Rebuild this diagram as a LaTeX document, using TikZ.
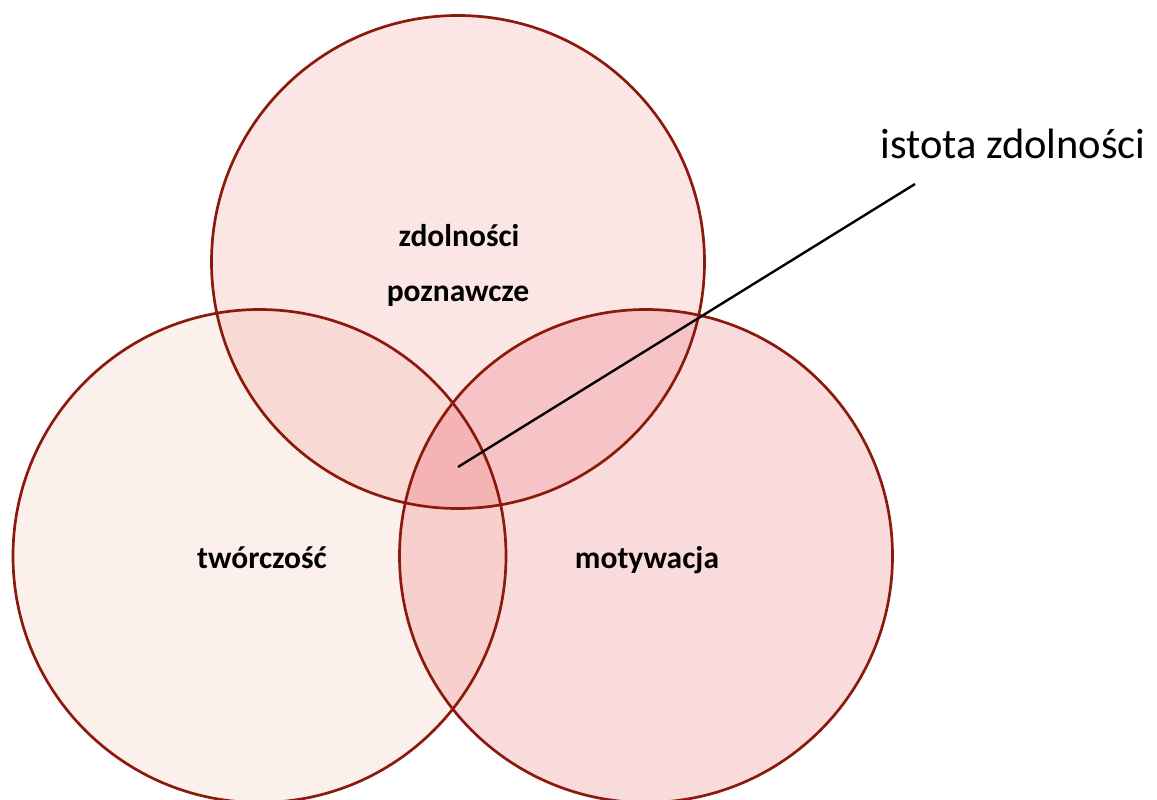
\documentclass[tikz,border=0pt]{standalone}
\usepackage{fontspec}
\setmainfont{Carlito}
\definecolor{fillTop}{HTML}{FBE5E5}
\definecolor{fillLeft}{HTML}{FCF0EC}
\definecolor{fillRight}{HTML}{FADBDC}
\definecolor{fillTL}{HTML}{F9D9D3}
\definecolor{fillTR}{HTML}{F6C4C6}
\definecolor{fillLR}{HTML}{F7CFCD}
\definecolor{fillAll}{HTML}{F4B4B3}
\definecolor{ringRed}{HTML}{8C1A0C}
\begin{document}
\begin{tikzpicture}[x=1pt,y=-1pt,
  ring/.style={draw=ringRed,line width=2.7pt},
  setlabel/.style={font=\fontsize{31.5}{36}\selectfont\bfseries,anchor=base,inner sep=0pt},
  calloutlabel/.style={font=\fontsize{42.5}{50}\selectfont,anchor=base,inner sep=0pt}]
\useasboundingbox (0,0) rectangle (1157,800);
\def\rr{246.5}
\coordinate (cTop) at (458,262);
\coordinate (cLeft) at (259.5,556);
\coordinate (cRight) at (646,556);
% single-set regions
\fill[fillTop] (cTop) circle (\rr);
\fill[fillLeft] (cLeft) circle (\rr);
\fill[fillRight] (cRight) circle (\rr);
% pairwise overlaps
\begin{scope}
  \clip (cTop) circle (\rr);
  \fill[fillTL] (cLeft) circle (\rr);
  \fill[fillTR] (cRight) circle (\rr);
\end{scope}
\begin{scope}
  \clip (cLeft) circle (\rr);
  \fill[fillLR] (cRight) circle (\rr);
\end{scope}
% common core
\begin{scope}
  \clip (cTop) circle (\rr);
  \clip (cLeft) circle (\rr);
  \fill[fillAll] (cRight) circle (\rr);
\end{scope}
% outlines
\draw[ring] (cTop) circle (\rr);
\draw[ring] (cLeft) circle (\rr);
\draw[ring] (cRight) circle (\rr);
% set labels
\node[setlabel] (lblTop1) at (459,246) {zdolności};
\node[setlabel] (lblTop2) at (458,301) {poznawcze};
\node[setlabel] (lblLeft) at (262,568) {twórczość};
\node[setlabel] (lblRight) at (647,568) {motywacja};
% callout
\node[calloutlabel] (lblCore) at (1013,158) {istota zdolności};
\coordinate (corePt) at (458,467);
\coordinate (calloutEnd) at (915,184);
\draw[black,line width=2.4pt] (corePt) -- (calloutEnd);
\end{tikzpicture}
\end{document}
